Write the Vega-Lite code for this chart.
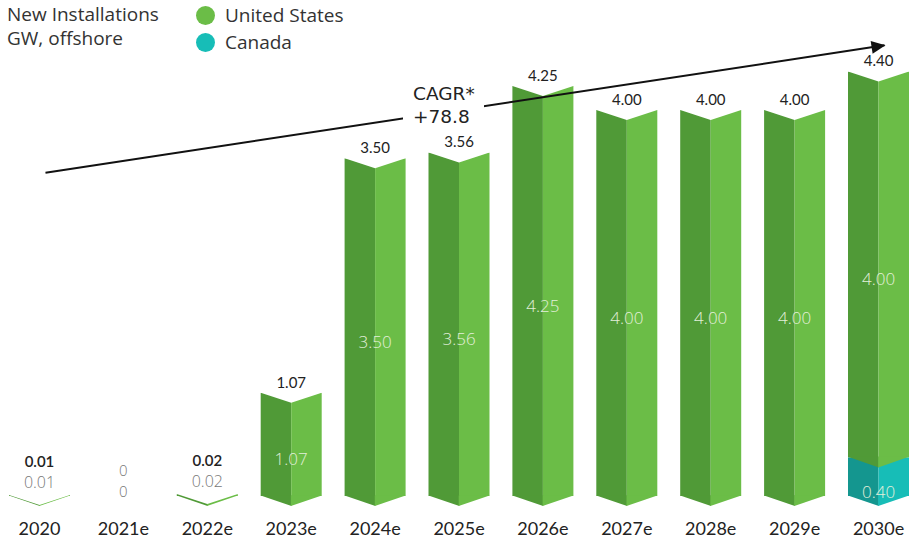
{
  "$schema": "https://vega.github.io/schema/vega-lite/v6.json",
  "autosize": "none",
  "width": 912,
  "height": 496,
  "padding": {"left": 3, "right": 0, "top": 0, "bottom": 49},
  "background": "white",
  "config": {
    "view": {"stroke": null},
    "font": "Open Sans",
    "axis": {"grid": false}
  },
  "datasets": {
    "installs": [
      {"year": "2020", "country": "United States", "value": 0.01},
      {"year": "2021e", "country": "United States", "value": 0},
      {"year": "2022e", "country": "United States", "value": 0.02},
      {"year": "2023e", "country": "United States", "value": 1.07},
      {"year": "2024e", "country": "United States", "value": 3.50},
      {"year": "2025e", "country": "United States", "value": 3.56},
      {"year": "2026e", "country": "United States", "value": 4.25},
      {"year": "2027e", "country": "United States", "value": 4.00},
      {"year": "2028e", "country": "United States", "value": 4.00},
      {"year": "2029e", "country": "United States", "value": 4.00},
      {"year": "2030e", "country": "United States", "value": 4.00},
      {"year": "2030e", "country": "Canada", "value": 0.40}
    ],
    "arrow": [
      {"year": "2020", "level": 3.35},
      {"year": "2030e", "level": 4.67}
    ],
    "cagr": [
      {"year": "2025e", "level": 4.16, "text": "CAGR*\n+78.8"}
    ]
  },
  "data": {"name": "installs"},
  "transform": [
    {"stack": "value", "groupby": ["year"], "sort": [{"field": "country", "order": "ascending"}], "as": ["v0", "v1"]},
    {"calculate": "(datum.v0 + datum.v1) / 2", "as": "mid"},
    {"calculate": "datum.value == 0 ? '0' : format(datum.value, '.2f')", "as": "label"}
  ],
  "encoding": {
    "x": {
      "field": "year",
      "type": "nominal",
      "sort": null,
      "scale": {"paddingInner": 0.273, "paddingOuter": 0.0715},
      "axis": {
        "title": null,
        "domain": false,
        "ticks": false,
        "labelAngle": 0,
        "labelFontSize": 18,
        "labelColor": "#222222",
        "labelPadding": 24,
        "labelFont": "Lato"
      }
    }
  },
  "layer": [
    {
      "mark": {"type": "bar", "width": 30.5, "xOffset": -15.25, "cornerRadius": 0},
      "encoding": {
        "y": {"field": "v1", "type": "quantitative", "scale": {"domain": [0, 5.14], "nice": false, "zero": true}, "axis": null},
        "y2": {"field": "v0"},
        "fill": {"condition": {"test": "datum.country === 'Canada'", "value": "#14968f"}, "value": "#509a37"}
      }
    },
    {
      "mark": {"type": "bar", "width": 30.5, "xOffset": 15.25},
      "encoding": {
        "y": {"field": "v1", "type": "quantitative"},
        "y2": {"field": "v0"},
        "color": {
          "field": "country",
          "type": "nominal",
          "scale": {"domain": ["United States", "Canada"], "range": ["#6bbd47", "#17bdb7"]},
          "legend": {
            "orient": "none",
            "legendX": 4,
            "legendY": 6,
            "title": ["New Installations", "GW, offshore"],
            "titleOrient": "left",
            "titleAnchor": "start",
            "titleBaseline": "top",
            "titleFontSize": 19,
            "titleFont": "Open Sans",
            "titleFontWeight": "normal",
            "titleColor": "#333333",
            "titleLineHeight": 24,
            "titlePadding": 37,
            "symbolType": "circle",
            "symbolSize": 361,
            "symbolStrokeWidth": 0,
            "labelFont": "Open Sans",
            "labelFontSize": 19,
            "labelColor": "#333333",
            "labelOffset": 10,
            "rowPadding": 7
          }
        }
      }
    },
    {
      "transform": [{"filter": "datum.value > 0"}],
      "mark": {"type": "point", "shape": "M-30.5,-0.6 L0.3,-0.6 L0.3,10 Z", "size": 4, "filled": true, "opacity": 1, "strokeWidth": 0},
      "encoding": {
        "y": {"field": "v0", "type": "quantitative"},
        "fill": {"condition": {"test": "datum.country === 'Canada'", "value": "#14968f"}, "value": "#509a37"}
      }
    },
    {
      "transform": [{"filter": "datum.value > 0"}],
      "mark": {"type": "point", "shape": "M-0.3,-0.6 L30.5,-0.6 L-0.3,10 Z", "size": 4, "filled": true, "opacity": 1, "strokeWidth": 0},
      "encoding": {
        "y": {"field": "v0", "type": "quantitative"},
        "fill": {"condition": {"test": "datum.country === 'Canada'", "value": "#17bdb7"}, "value": "#6bbd47"}
      }
    },
    {
      "transform": [
        {"aggregate": [{"op": "sum", "field": "value", "as": "total"}], "groupby": ["year"]},
        {"filter": "datum.total > 0"}
      ],
      "mark": {"type": "point", "shape": "M-32,-2 L32,-2 L32,0 L30.5,0 L0,10 L-30.5,0 L-32,0 Z", "size": 4, "filled": true, "opacity": 1, "fill": "white", "strokeWidth": 0},
      "encoding": {
        "y": {"field": "total", "type": "quantitative"}
      }
    },
    {
      "data": {"name": "arrow"},
      "transform": [],
      "mark": {"type": "line", "color": "#111111", "strokeWidth": 2, "xOffset": 6},
      "encoding": {
        "x": {"field": "year", "type": "nominal", "sort": null},
        "y": {"field": "level", "type": "quantitative"}
      }
    },
    {
      "data": {"name": "arrow"},
      "transform": [{"filter": "datum.year === '2030e'"}],
      "mark": {"type": "point", "shape": "M1,0 L-13,-6.5 L-13,6.5 Z", "size": 4, "filled": true, "opacity": 1, "fill": "#111111", "strokeWidth": 0, "angle": -8.7, "xOffset": 6},
      "encoding": {
        "x": {"field": "year", "type": "nominal", "sort": null},
        "y": {"field": "level", "type": "quantitative"}
      }
    },
    {
      "data": {"name": "cagr"},
      "transform": [],
      "mark": {"type": "point", "shape": "M-56,-13 L25,-13 L25,33 L-56,33 Z", "size": 4, "filled": true, "opacity": 1, "fill": "white", "strokeWidth": 0},
      "encoding": {
        "x": {"field": "year", "type": "nominal", "sort": null},
        "y": {"field": "level", "type": "quantitative"}
      }
    },
    {
      "data": {"name": "cagr"},
      "transform": [],
      "mark": {"type": "text", "align": "left", "baseline": "middle", "fontSize": 18.5, "font": "DejaVu Sans", "color": "#222222", "lineBreak": "\n", "lineHeight": 23, "dx": -46, "dy": -1},
      "encoding": {
        "x": {"field": "year", "type": "nominal", "sort": null},
        "y": {"field": "level", "type": "quantitative"},
        "text": {"field": "text"}
      }
    },
    {
      "transform": [{"filter": "datum.value >= 0.1"}],
      "mark": {"type": "text", "align": "center", "baseline": "middle", "fontSize": 17, "fontWeight": 300, "color": "#e2efda", "dy": 16},
      "encoding": {
        "y": {"field": "mid", "type": "quantitative"},
        "text": {"field": "label"}
      }
    },
    {
      "transform": [{"filter": "datum.value > 0 && datum.value < 0.1"}],
      "mark": {"type": "text", "align": "center", "baseline": "middle", "fontSize": 16, "fontWeight": 300, "color": "#777777", "dy": -12},
      "encoding": {
        "y": {"field": "v1", "type": "quantitative"},
        "text": {"field": "label"}
      }
    },
    {
      "transform": [{"filter": "datum.value == 0"}],
      "mark": {"type": "text", "align": "center", "baseline": "middle", "fontSize": 15, "fontWeight": 300, "color": "#777777", "dy": -4},
      "encoding": {
        "y": {"field": "v1", "type": "quantitative"},
        "text": {"field": "label"}
      }
    },
    {
      "transform": [
        {"aggregate": [{"op": "sum", "field": "value", "as": "total"}], "groupby": ["year"]},
        {"calculate": "datum.total == 0 ? '0' : format(datum.total, '.2f')", "as": "tlabel"}
      ],
      "layer": [
        {
          "transform": [{"filter": "datum.total >= 0.1"}],
          "mark": {"type": "text", "align": "center", "baseline": "alphabetic", "fontSize": 15, "font": "Lato", "color": "#222222", "dy": -5},
          "encoding": {
            "y": {"field": "total", "type": "quantitative"},
            "text": {"field": "tlabel"}
          }
        },
        {
          "transform": [{"filter": "datum.total > 0 && datum.total < 0.1"}],
          "mark": {"type": "text", "align": "center", "baseline": "middle", "fontSize": 15, "font": "Lato", "fontWeight": 600, "color": "#222222", "dy": -33},
          "encoding": {
            "y": {"field": "total", "type": "quantitative"},
            "text": {"field": "tlabel"}
          }
        },
        {
          "transform": [{"filter": "datum.total == 0"}],
          "mark": {"type": "text", "align": "center", "baseline": "middle", "fontSize": 15, "fontWeight": 300, "color": "#777777", "dy": -25},
          "encoding": {
            "y": {"field": "total", "type": "quantitative"},
            "text": {"field": "tlabel"}
          }
        }
      ]
    }
  ]
}
